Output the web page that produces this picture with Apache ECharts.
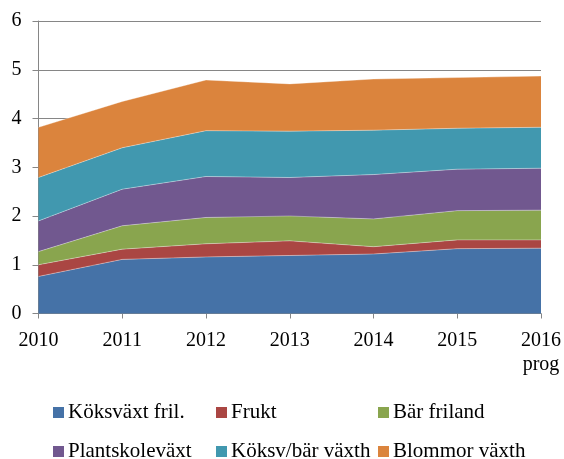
<!DOCTYPE html>
<html>
<head>
<meta charset="utf-8">
<script src="https://cdn.jsdelivr.net/npm/echarts@6/dist/echarts.min.js"></script>
<style>
html,body{margin:0;padding:0;background:#fff;}
#chart{width:564px;height:459px;}
</style>
</head>
<body>
<div id="chart"></div>
<script>
var categories = ['2010', '2011', '2012', '2013', '2014', '2015', '2016\nprog'];
var seriesNames = ['Köksväxt fril.', 'Frukt', 'Bär friland', 'Plantskoleväxt', 'Köksv/bär växth', 'Blommor växth'];
var koksvaxtFril = [0.76, 1.11, 1.16, 1.19, 1.22, 1.33, 1.34];
var frukt = [0.24, 0.21, 0.27, 0.30, 0.15, 0.18, 0.17];
var barFriland = [0.27, 0.48, 0.54, 0.51, 0.57, 0.60, 0.61];
var plantskolevaxt = [0.63, 0.75, 0.84, 0.79, 0.91, 0.85, 0.86];
var koksvBarVaxth = [0.89, 0.85, 0.94, 0.95, 0.91, 0.84, 0.84];
var blommorVaxth = [1.03, 0.95, 1.04, 0.97, 1.05, 1.04, 1.05];
var yTicks = [0, 1, 2, 3, 4, 5, 6];

var seriesData = [koksvaxtFril, frukt, barFriland, plantskolevaxt, koksvBarVaxth, blommorVaxth];
var colors = ['#4572A7', '#AA4643', '#89A54E', '#71588F', '#4198AF', '#DB843D'];
var FONT = "'Liberation Serif', 'Times New Roman', serif";

var chart = echarts.init(document.getElementById('chart'));

var legendPos = [
  [53, 402], [216, 402], [378, 402],
  [53, 441], [216, 441], [378, 441]
];
var legends = seriesNames.map(function (n, i) {
  return {
    data: [n],
    left: legendPos[i][0],
    top: legendPos[i][1],
    icon: 'rect',
    itemWidth: 11,
    itemHeight: 11,
    itemGap: 0,
    padding: 0,
    selectedMode: false,
    textStyle: { fontFamily: FONT, fontSize: 21, color: '#000', padding: [0, 0, 0, -1] }
  };
});

var option = {
  animation: false,
  color: colors,
  legend: legends,
  grid: { left: 38.5, right: 22.3, top: 21, bottom: 145.5, containLabel: false },
  xAxis: {
    type: 'category',
    data: categories,
    boundaryGap: false,
    axisLine: { lineStyle: { color: '#868686', width: 1 } },
    axisTick: { show: true, length: 5, lineStyle: { color: '#868686' } },
    axisLabel: { fontFamily: FONT, fontSize: 20, color: '#000', margin: 15, lineHeight: 24, interval: 0 }
  },
  yAxis: {
    type: 'value',
    min: yTicks[0],
    max: yTicks[yTicks.length - 1],
    interval: 1,
    axisLine: { show: true, lineStyle: { color: '#868686', width: 1 } },
    axisTick: { show: true, length: 6, lineStyle: { color: '#868686' } },
    splitLine: { show: true, lineStyle: { color: '#868686', width: 1 } },
    axisLabel: { fontFamily: FONT, fontSize: 20, color: '#000', margin: 17 }
  },
  series: seriesNames.map(function (n, i) {
    return {
      name: n,
      type: 'line',
      stack: 'total',
      data: seriesData[i],
      symbol: 'none',
      lineStyle: { width: 0.8, color: 'rgba(255,255,255,0.45)' },
      areaStyle: { color: colors[i], opacity: 1 },
      itemStyle: { color: colors[i] },
      z: 2
    };
  })
};
chart.setOption(option);
</script>
</body>
</html>
